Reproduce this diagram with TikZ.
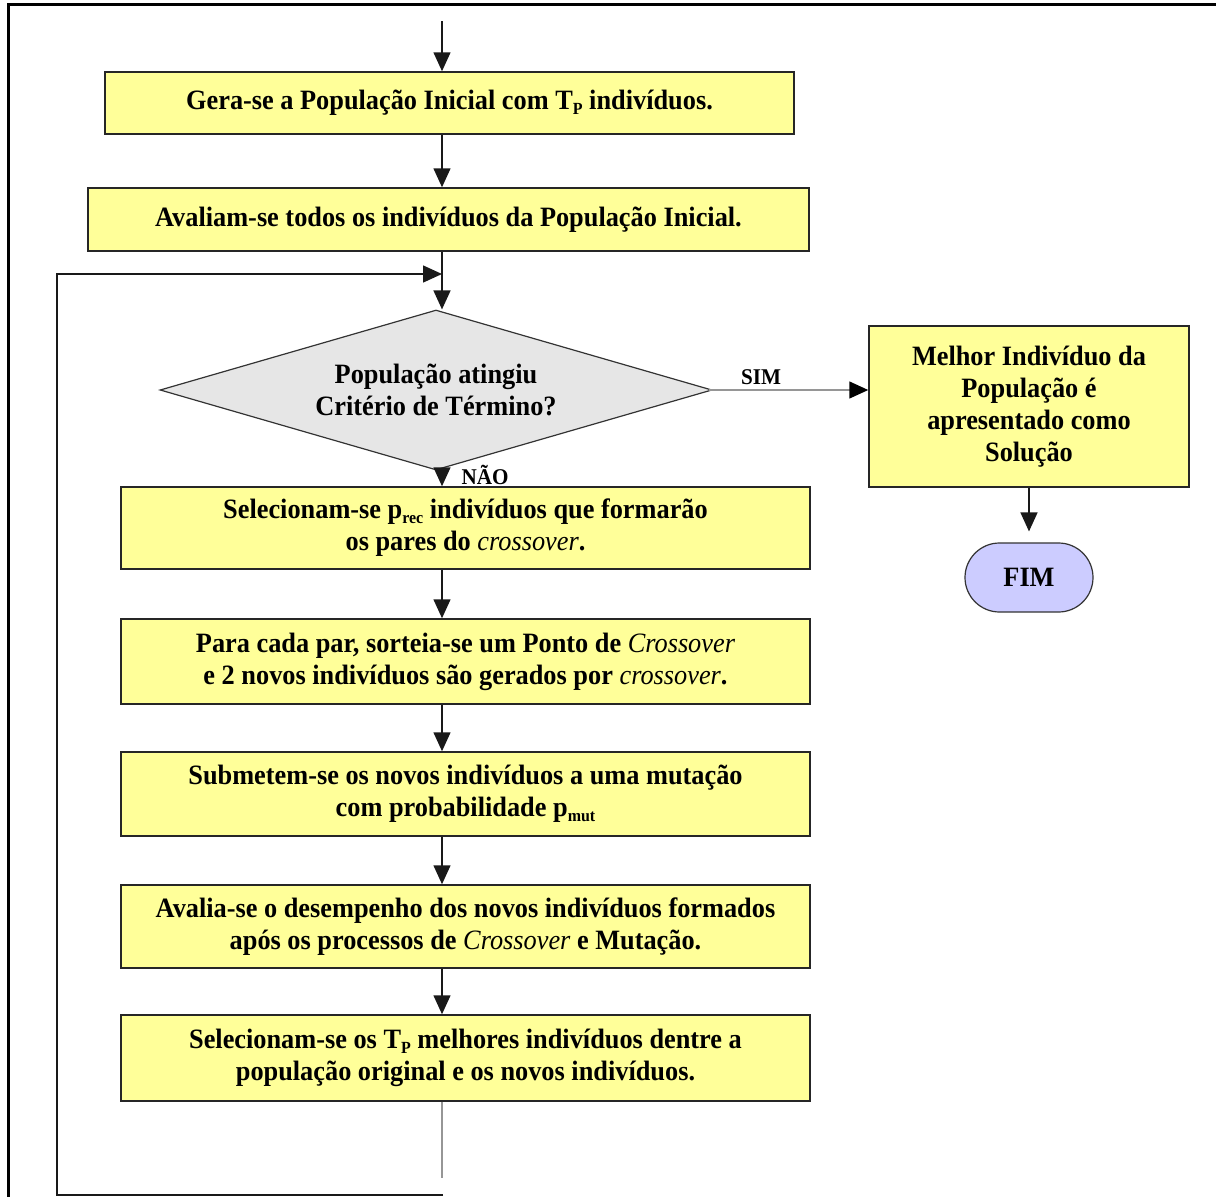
\documentclass[tikz,border=0pt]{standalone}
\usepackage{fontspec}
\setmainfont{Liberation Serif}[FakeStretch=0.94]
\usetikzlibrary{arrows.meta,shapes.geometric,shapes.misc}

\definecolor{boxyellow}{RGB}{255,255,153}
\definecolor{decgray}{RGB}{230,230,230}
\definecolor{endlav}{RGB}{204,204,255}
\definecolor{edgegray}{RGB}{150,150,150}

% lowered small index (T_P, p_rec, p_mut)
\newcommand{\lowidx}[1]{\raisebox{-0.17em}{\fontsize{17}{17}\selectfont #1}}
% italic, regular-weight technical term
\newcommand{\xterm}[1]{{\mdseries\itshape #1}}

\begin{document}
\begin{tikzpicture}[
  x=1pt, y=-1pt,
  font=\fontsize{28}{32}\selectfont\bfseries,
  procbox/.style={draw=black!85, line width=1.5pt, fill=boxyellow,
    align=center, inner sep=0pt},
  decision/.style={diamond, draw=black!80, line width=1.2pt, fill=decgray,
    align=center, inner sep=0pt, aspect=3.44,
    minimum width=552pt, minimum height=160pt},
  terminal/.style={rounded rectangle, draw=black!80, line width=1.2pt,
    fill=endlav, minimum width=128pt, minimum height=69pt, inner sep=0pt},
  flow/.style={line width=1.5pt, draw=black!90,
    -{Triangle[length=19pt,width=17pt]}},
  tag/.style={font=\fontsize{22.5}{24}\selectfont\bfseries, inner sep=0pt},
]
\useasboundingbox (0,0) rectangle (1216,1197);

% outer frame
\draw[line width=3pt] (8,1197) -- (8,4) -- (1216,4);

% main column
\coordinate (spine) at (442,0);
\coordinate (start) at (442,21);

\node[procbox, minimum width=689pt, minimum height=62pt] (b1) at (449.5,103)
  {Gera-se a População Inicial com T\lowidx{P} indivíduos.};
\node[procbox, minimum width=721pt, minimum height=63pt] (b2) at (448.5,219.5)
  {Avaliam-se todos os indivíduos da População Inicial.};
\node[decision] (dia) at (436,390)
  {População atingiu\\Critério de Término?};
\node[procbox, minimum width=320pt, minimum height=161pt] (best) at (1029,406.5)
  {Melhor Indivíduo da\\População é\\apresentado como\\Solução};
\node[terminal] (fim) at (1029,577.5) {FIM};

\node[procbox, minimum width=689pt, minimum height=82pt] (b3) at (465.5,528)
  {Selecionam-se p\lowidx{rec} indivíduos que formarão\\os pares do \xterm{crossover}.};
\node[procbox, minimum width=689pt, minimum height=85pt] (b4) at (465.5,661.5)
  {Para cada par, sorteia-se um Ponto de \xterm{Crossover}\\e 2 novos indivíduos são gerados por \xterm{crossover}.};
\node[procbox, minimum width=689pt, minimum height=84pt] (b5) at (465.5,794)
  {Submetem-se os novos indivíduos a uma mutação\\com probabilidade p\lowidx{mut}};
\node[procbox, minimum width=689pt, minimum height=83pt] (b6) at (465.5,926.5)
  {Avalia-se o desempenho dos novos indivíduos formados\\após os processos de \xterm{Crossover} e Mutação.};
\node[procbox, minimum width=689pt, minimum height=86pt] (b7) at (465.5,1058)
  {Selecionam-se os T\lowidx{P} melhores indivíduos dentre a\\população original e os novos indivíduos.};

% loop-back path corners
\coordinate (loopin) at (442,274);
\coordinate (grayend) at (442,1178);
\coordinate (loopbr) at (443,1195);
\coordinate (loopbl) at (57,1195);
\coordinate (looptl) at (57,274);

% connectors
\draw[flow] (start) -- (b1.north -| start);
\draw[flow] (b1.south -| spine) -- (b2.north -| spine);
\draw[flow] (b2.south -| spine) -- (dia.north -| spine);
\draw[flow, shorten <=-12pt] (dia.south -| spine) -- (b3.north -| spine);
\draw[flow] (b3.south -| spine) -- (b4.north -| spine);
\draw[flow] (b4.south -| spine) -- (b5.north -| spine);
\draw[flow] (b5.south -| spine) -- (b6.north -| spine);
\draw[flow] (b6.south -| spine) -- (b7.north -| spine);

\draw[line width=1.5pt, edgegray] (b7.south -| spine) -- (grayend);
\draw[flow] (loopbr) -- (loopbl) -- (looptl) -- (loopin);

\draw[line width=1.5pt, edgegray, -{Triangle[length=19pt,width=17pt,color=black]}]
  ([xshift=-4pt]dia.east) -- (dia.east -| best.west);
\draw[flow, shorten >=11pt] (best.south) -- (fim.north);

% branch labels
\node[tag] (sim) at (761,377) {SIM};
\node[tag] (nao) at (485,475) {NÃO};
\end{tikzpicture}
\end{document}
